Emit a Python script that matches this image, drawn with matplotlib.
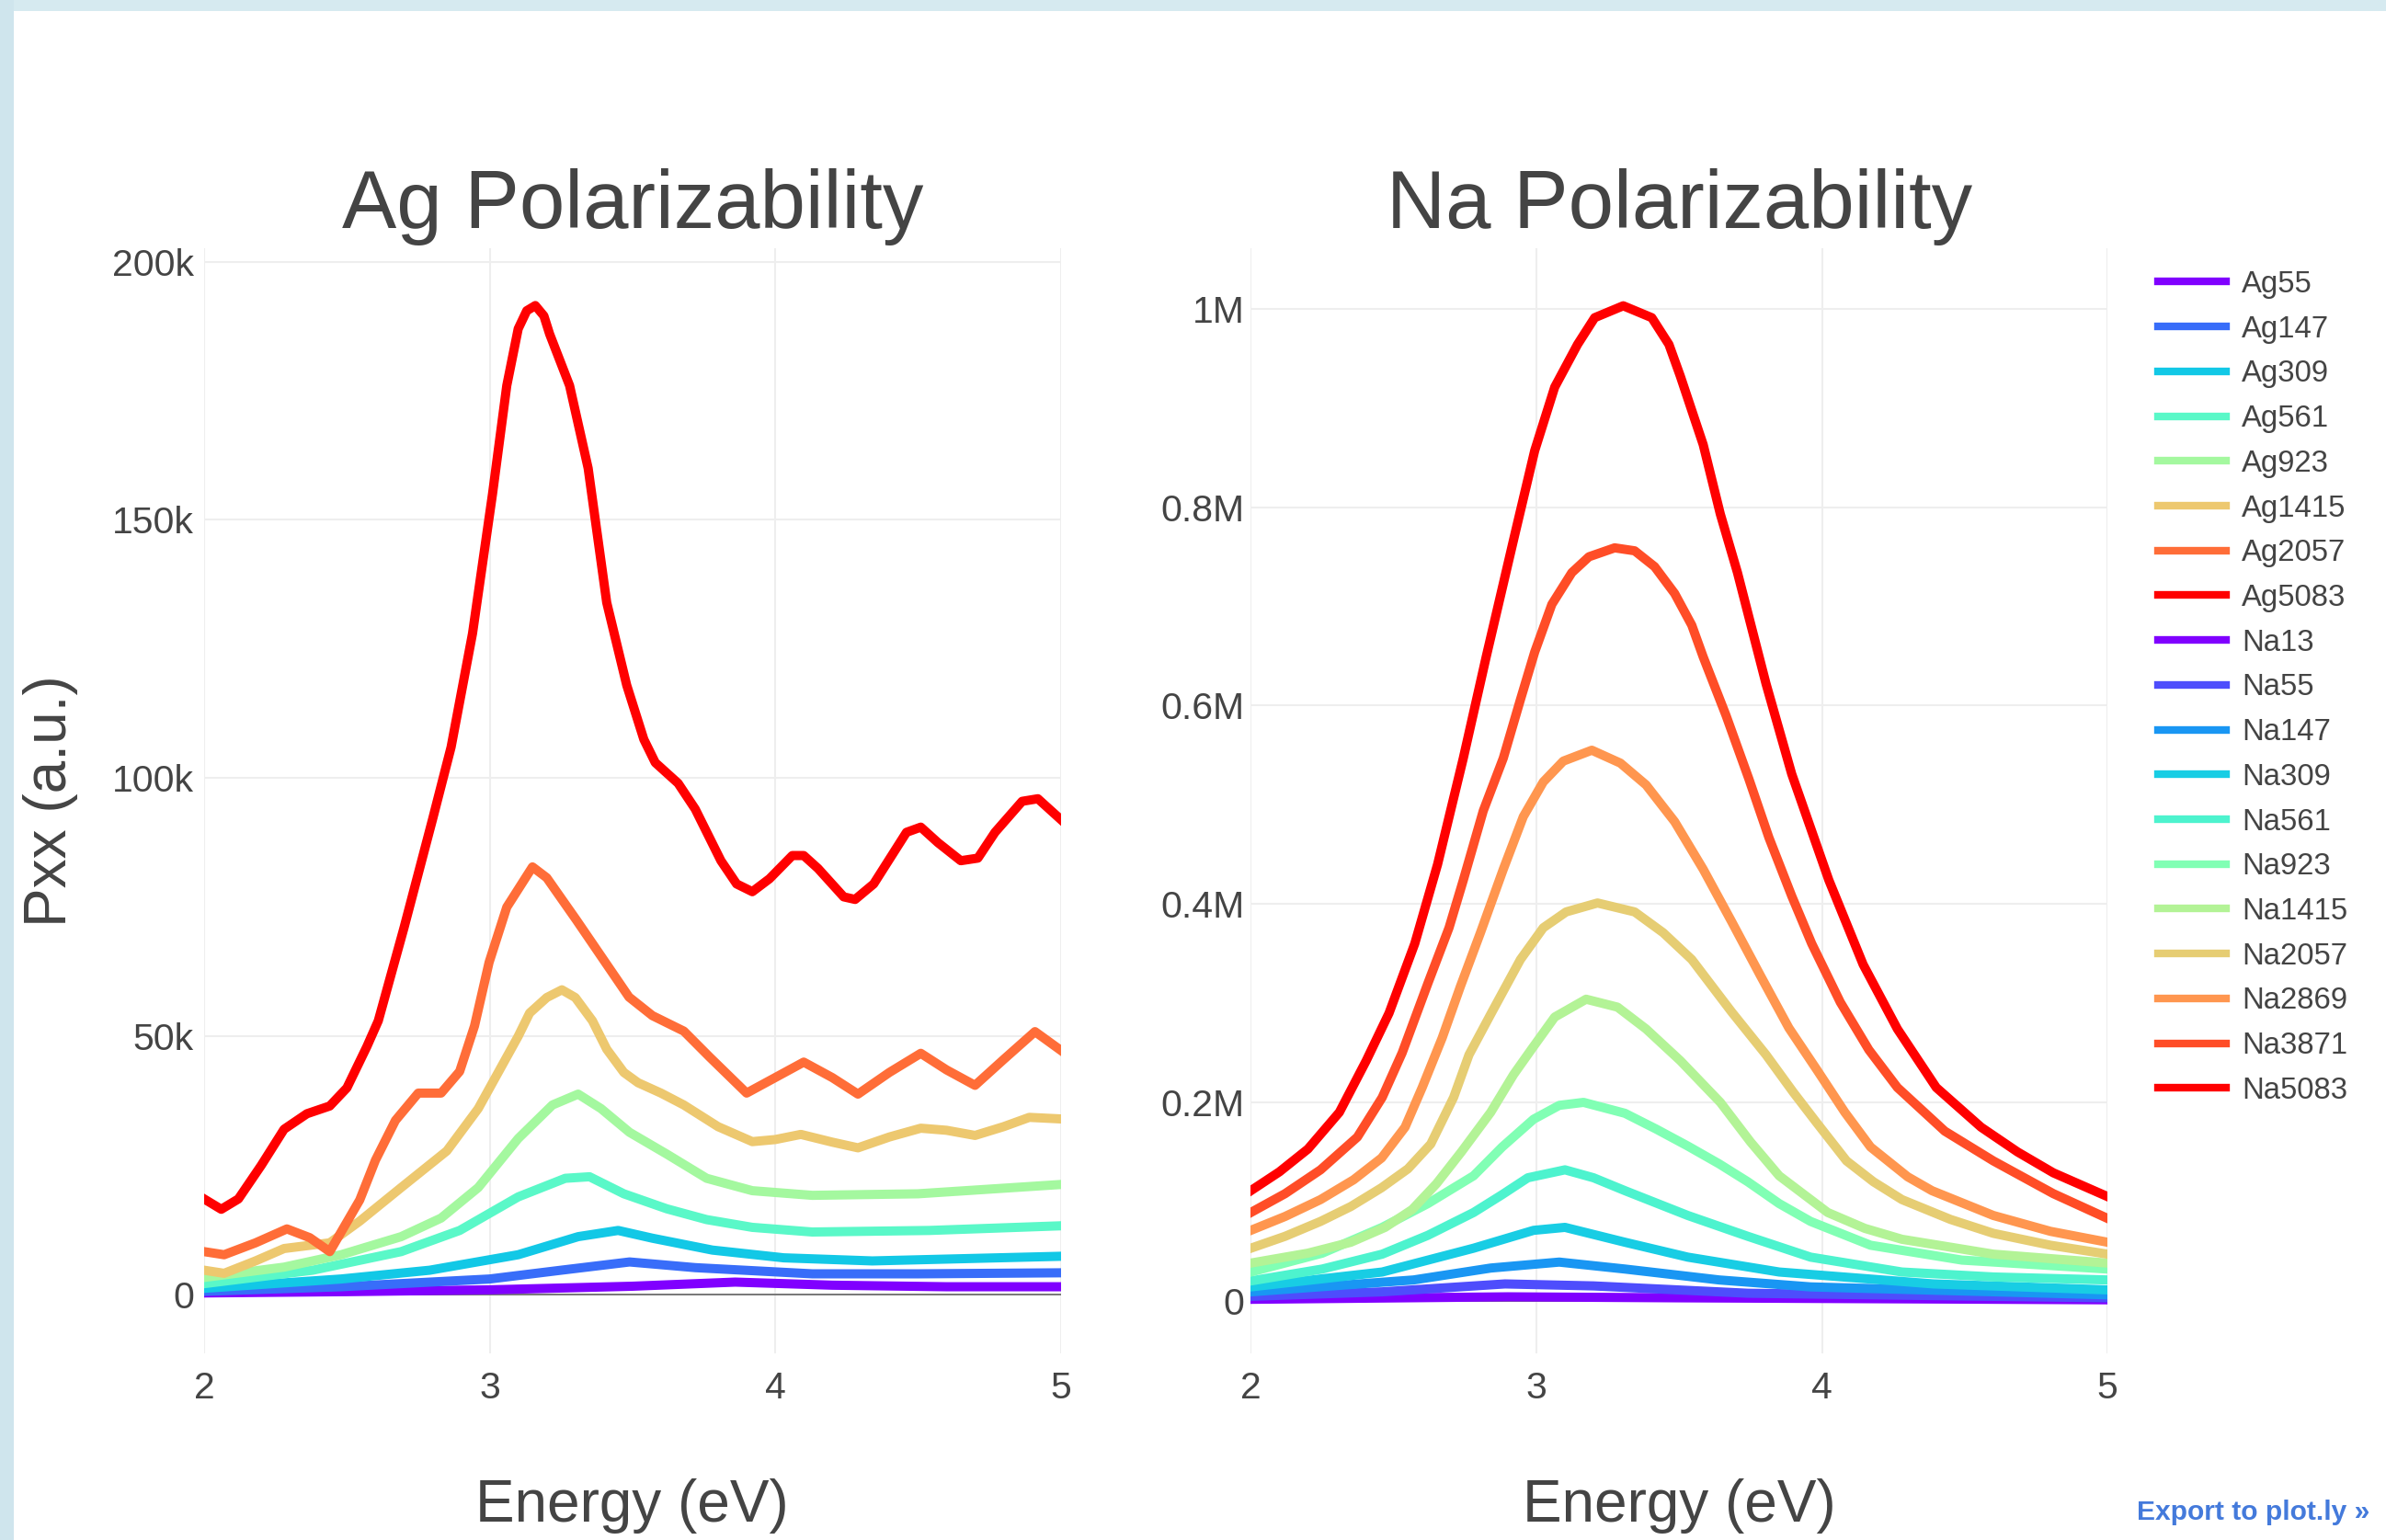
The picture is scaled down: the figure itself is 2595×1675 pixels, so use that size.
import numpy as np
import matplotlib.pyplot as plt
from matplotlib.patches import Rectangle

plt.rcParams['font.family'] = ['Liberation Sans', 'DejaVu Sans']

# ---- Ag spectra (energy in eV, polarizability in a.u.) ----
ag55_e = [2.0, 2.5, 3.0, 3.5, 3.86, 4.2, 4.6, 5.0]
ag55_v = [300, 550, 900, 1600, 2400, 1800, 1500, 1500]

ag147_e = [2.0, 2.48, 3.0, 3.25, 3.49, 3.72, 4.13, 4.5, 5.0]
ag147_v = [600, 1500, 3000, 4700, 6300, 5200, 4000, 4000, 4200]

ag309_e = [2.0, 2.48, 2.79, 3.10, 3.31, 3.45, 3.57, 3.78, 4.03, 4.34, 5.0]
ag309_v = [1200, 3000, 4700, 7700, 11200, 12400, 10900, 8600, 7100, 6500, 7400]

ag561_e = [2.0, 2.38, 2.69, 2.895, 3.10, 3.265, 3.35, 3.47, 3.62, 3.76, 3.92, 4.13, 4.54, 5.0]
ag561_v = [2100, 4700, 8300, 12400, 18900, 22500, 22800, 19500, 16600, 14500, 13000, 12100, 12400, 13300]

ag923_e = [2.0, 2.28, 2.48, 2.69, 2.83, 2.96, 3.10, 3.22, 3.31, 3.39, 3.49, 3.62, 3.76, 3.92, 4.13, 4.50, 5.0]
ag923_v = [3300, 5300, 7700, 11200, 14800, 20700, 30200, 36700, 38800, 36000, 31400, 27200, 22500, 20100,
           19200, 19500, 21300]

ag1415_e = [2.0, 2.07, 2.18, 2.28, 2.44, 2.545, 2.69, 2.85, 2.96, 3.06, 3.1, 3.14, 3.2, 3.253, 3.3, 3.36,
            3.41, 3.47, 3.52, 3.6, 3.68, 3.8, 3.92, 4.0, 4.09, 4.2, 4.29, 4.4, 4.51, 4.6, 4.7, 4.8, 4.89, 5.0]
ag1415_v = [4700, 4100, 6500, 8900, 10000, 14200, 20700, 27800, 36000, 46000, 50000, 54500, 57500, 59000,
            57500, 53000, 47500, 43000, 41000, 39000, 36700, 32500, 29600, 30000, 31000, 29500, 28400, 30500,
            32200, 31800, 30800, 32500, 34300, 34000]

ag2057_e = [2.0, 2.07, 2.18, 2.29, 2.37, 2.44, 2.545, 2.6, 2.67, 2.75, 2.83, 2.895, 2.947, 2.998, 3.06, 3.15,
            3.2, 3.304, 3.488, 3.57, 3.68, 3.77, 3.9, 4.0, 4.1, 4.2, 4.29, 4.4, 4.51, 4.6, 4.7, 4.8, 4.91, 5.0]
ag2057_v = [8300, 7700, 10000, 12700, 11000, 8300, 18300, 26000, 33700, 39000, 39000, 43200, 52000, 64300,
            75000, 82800, 80700, 72500, 57600, 54000, 51000, 46000, 39000, 42000, 45000, 42000, 38800, 43000,
            46700, 43500, 40500, 45500, 50900, 47300]

ag5083_e = [2.0, 2.06, 2.12, 2.2, 2.28, 2.36, 2.44, 2.5, 2.57, 2.61, 2.7, 2.75, 2.8, 2.865, 2.94, 3.01, 3.06,
            3.1, 3.13, 3.16, 3.19, 3.21, 3.28, 3.345, 3.41, 3.48, 3.54, 3.58, 3.66, 3.72, 3.81, 3.865, 3.92,
            3.98, 4.06, 4.1, 4.15, 4.24, 4.28, 4.345, 4.46, 4.51, 4.57, 4.65, 4.71, 4.77, 4.865, 4.92, 5.0]
ag5083_v = [18500, 16500, 18500, 25000, 32000, 35000, 36500, 40000, 48000, 53000, 71000, 81500, 92000,
            106000, 128000, 155000, 176000, 187000, 190500, 191500, 189500, 186000, 176000, 160000, 134000,
            118000, 107500, 103000, 99000, 94000, 84000, 79500, 78000, 80500, 85000, 85000, 82500, 77000,
            76500, 79500, 89500, 90500, 87500, 84000, 84500, 89500, 95500, 96000, 92000]

# ---- Na spectra ----
na13_e = [2.0, 2.9, 3.5, 5.0]
na13_v = [1500, 4000, 3000, 1000]

na55_e = [2.0, 2.46, 2.89, 3.2, 3.74, 5.0]
na55_v = [4500, 9000, 17000, 15000, 7600, 3000]

na147_e = [2.0, 2.57, 2.84, 3.08, 3.31, 3.64, 3.96, 5.0]
na147_v = [9000, 21000, 33000, 39000, 32000, 21000, 14000, 6000]

na309_e = [2.0, 2.46, 2.78, 2.99, 3.10, 3.31, 3.53, 3.85, 4.39, 5.0]
na309_v = [14000, 29000, 53000, 71000, 74000, 59000, 44000, 29000, 17000, 11000]

na561_e = [2.0, 2.25, 2.46, 2.62, 2.78, 2.88, 2.97, 3.10, 3.2, 3.31, 3.53, 3.74, 3.96, 4.28, 4.6, 5.0]
na561_v = [20000, 32000, 47000, 66000, 89000, 107000, 124000, 132000, 124000, 111000, 86000, 65000, 44000,
           29000, 24000, 21000]

na923_e = [2.0, 2.25, 2.46, 2.62, 2.78, 2.88, 2.99, 3.08, 3.165, 3.31, 3.42, 3.53, 3.64, 3.74, 3.85, 3.96,
           4.17, 4.49, 5.0]
na923_v = [29000, 48000, 74000, 98000, 126000, 155000, 183000, 197000, 200000, 189000, 173000, 156000,
           138000, 120000, 98000, 80000, 56000, 41000, 32000]

na1415_e = [2.0, 2.2, 2.35, 2.47, 2.565, 2.65, 2.737, 2.84, 2.92, 2.984, 3.064, 3.174, 3.284, 3.384, 3.504,
            3.644, 3.75, 3.85, 4.02, 4.15, 4.28, 4.6, 5.0]
na1415_v = [38000, 48000, 59000, 74000, 92000, 118000, 150000, 190000, 228000, 254000, 286000, 304000,
            296000, 274000, 242000, 200000, 160000, 126000, 89000, 73000, 62000, 47000, 38000]

na2057_e = [2.0, 2.12, 2.244, 2.35, 2.458, 2.55, 2.63, 2.71, 2.764, 2.844, 2.944, 3.024, 3.104, 3.214, 3.344,
            3.444, 3.544, 3.684, 3.804, 3.9, 3.98, 4.086, 4.18, 4.28, 4.45, 4.6, 4.8, 5.0]
na2057_v = [53000, 65000, 80000, 95000, 114000, 133000, 158000, 205000, 248000, 291000, 344000, 376000,
            392000, 401000, 392000, 371000, 344000, 291000, 248000, 210000, 180000, 141000, 120000, 102000,
            82000, 68000, 56000, 47000]

na2869_e = [2.0, 2.12, 2.244, 2.36, 2.458, 2.54, 2.6, 2.67, 2.734, 2.804, 2.884, 2.954, 3.024, 3.094, 3.194,
            3.294, 3.384, 3.484, 3.584, 3.684, 3.784, 3.884, 3.984, 4.08, 4.17, 4.3, 4.385, 4.6, 4.8, 5.0]
na2869_v = [71000, 85000, 102000, 122000, 144000, 175000, 215000, 265000, 317000, 371000, 435000, 488000,
            523000, 544000, 555000, 542000, 520000, 483000, 435000, 382000, 328000, 275000, 232000, 190000,
            155000, 125000, 111000, 86000, 70000, 59000]

na3871_e = [2.0, 2.12, 2.244, 2.373, 2.46, 2.53, 2.62, 2.694, 2.744, 2.814, 2.884, 2.944, 2.994, 3.054, 3.124,
            3.184, 3.274, 3.344, 3.414, 3.484, 3.544, 3.584, 3.664, 3.744, 3.814, 3.894, 3.964, 4.064, 4.164,
            4.264, 4.43, 4.6, 4.81, 5.0]
na3871_v = [89000, 108000, 132000, 165000, 205000, 250000, 320000, 376000, 424000, 494000, 547000, 606000,
            654000, 702000, 734000, 750000, 759000, 756000, 740000, 713000, 681000, 649000, 590000, 526000,
            467000, 408000, 360000, 301000, 253000, 215000, 171000, 141000, 108000, 83000]

na5083_e = [2.0, 2.1, 2.2, 2.31, 2.404, 2.484, 2.574, 2.654, 2.744, 2.824, 2.924, 2.994, 3.064, 3.144, 3.204,
            3.304, 3.404, 3.464, 3.504, 3.584, 3.644, 3.704, 3.804, 3.894, 4.024, 4.144, 4.264, 4.40, 4.557,
            4.685, 4.81, 5.0]
na5083_v = [111000, 130000, 153000, 190000, 242000, 290000, 360000, 440000, 547000, 649000, 772000, 857000,
            921000, 964000, 991000, 1003000, 991000, 964000, 932000, 863000, 793000, 734000, 622000, 531000,
            424000, 339000, 274000, 215000, 175000, 150000, 129000, 105000]

ag_labels = ['Ag55', 'Ag147', 'Ag309', 'Ag561', 'Ag923', 'Ag1415', 'Ag2057', 'Ag5083']
na_labels = ['Na13', 'Na55', 'Na147', 'Na309', 'Na561', 'Na923', 'Na1415', 'Na2057', 'Na2869', 'Na3871',
             'Na5083']

x_ticks = [2, 3, 4, 5]
ag_yticks = [0, 50000, 100000, 150000, 200000]
ag_yticklabels = ['0', '50k', '100k', '150k', '200k']
na_yticks = [0, 200000, 400000, 600000, 800000, 1000000]
na_yticklabels = ['0', '0.2M', '0.4M', '0.6M', '0.8M', '1M']

ag_series = [(ag55_e, ag55_v), (ag147_e, ag147_v), (ag309_e, ag309_v), (ag561_e, ag561_v),
             (ag923_e, ag923_v), (ag1415_e, ag1415_v), (ag2057_e, ag2057_v), (ag5083_e, ag5083_v)]
na_series = [(na13_e, na13_v), (na55_e, na55_v), (na147_e, na147_v), (na309_e, na309_v), (na561_e, na561_v),
             (na923_e, na923_v), (na1415_e, na1415_v), (na2057_e, na2057_v), (na2869_e, na2869_v),
             (na3871_e, na3871_v), (na5083_e, na5083_v)]

TXT = '#444444'
W, H = 2595, 1675
LW = 7.2

fig = plt.figure(figsize=(W / 100, H / 100), dpi=100)
fig.patch.set_facecolor('white')
# light blue page frame (top and left)
fig.patches.append(Rectangle((0, 1 - 12 / H), 1, 12 / H, transform=fig.transFigure,
                             facecolor='#d6eaf0', edgecolor='none', zorder=0))
fig.patches.append(Rectangle((0, 0), 15 / W, 1, transform=fig.transFigure,
                             facecolor='#cfe5ed', edgecolor='none', zorder=0))

# axes boxes in pixels: left, right, top, bottom
ax1 = fig.add_axes([222 / W, 1 - 1472 / H, (1153.6 - 222) / W, (1472 - 270) / H])
ax2 = fig.add_axes([1360.4 / W, 1 - 1472 / H, (2292.2 - 1360.4) / W, (1472 - 270) / H])


def style_axis(ax, title, yticks, yticklabels, ylim, ypad):
    ax.set_xlim(2, 5)
    ax.set_ylim(*ylim)
    ax.set_xticks(x_ticks)
    ax.set_yticks(yticks)
    ax.set_yticklabels(yticklabels)
    ax.tick_params(length=0, labelsize=29.5, labelcolor=TXT)
    ax.tick_params(axis='x', pad=14)
    ax.tick_params(axis='y', pad=ypad)
    for s in ax.spines.values():
        s.set_visible(False)
    ax.grid(True, color='#eeeeee', linewidth=1.5, zorder=0)
    ax.set_axisbelow(True)
    ax.axhline(0, color='#777777', linewidth=1.4, zorder=1)
    ax.text(0.5, 1.018, title, transform=ax.transAxes, ha='center', va='baseline',
            fontsize=64, color=TXT)
    ax.text(0.5, -0.138, 'Energy (eV)', transform=ax.transAxes, ha='center', va='center',
            fontsize=46, color=TXT)


cmap = plt.cm.rainbow
handles = []
for i, (e, v) in enumerate(ag_series):
    ln, = ax1.plot(e, v, color=cmap(i / (len(ag_series) - 1)), linewidth=LW,
                   solid_joinstyle='round', zorder=2, label=ag_labels[i])
    handles.append(ln)
for i, (e, v) in enumerate(na_series):
    ln, = ax2.plot(e, v, color=cmap(i / (len(na_series) - 1)), linewidth=LW,
                   solid_joinstyle='round', zorder=2, label=na_labels[i])
    handles.append(ln)

style_axis(ax1, 'Ag Polarizability', ag_yticks, ag_yticklabels, (-11400, 202600), 8)
style_axis(ax2, 'Na Polarizability', na_yticks, na_yticklabels, (-53000, 1061000), 5)
ax1.text(-0.179, 0.5, 'Pxx (a.u.)', transform=ax1.transAxes, rotation=90, ha='center', va='center',
         fontsize=46, color=TXT)

leg = fig.legend(handles, ag_labels + na_labels, loc='upper left',
                 bbox_to_anchor=(2347 / W, 1 - 294 / H), frameon=False, fontsize=23.7,
                 handlelength=2.26, handletextpad=0.5, labelspacing=0.538, borderpad=0, borderaxespad=0,
                 labelcolor=TXT)
for h in leg.legend_handles:
    h.set_linewidth(6)

fig.text(2577 / W, 1 - 1645 / H, 'Export to plot.ly \u00bb', ha='right', va='center',
         fontsize=21.6, color='#447adb', fontweight='bold')

fig.savefig('out.png', dpi=100, facecolor=fig.get_facecolor())
